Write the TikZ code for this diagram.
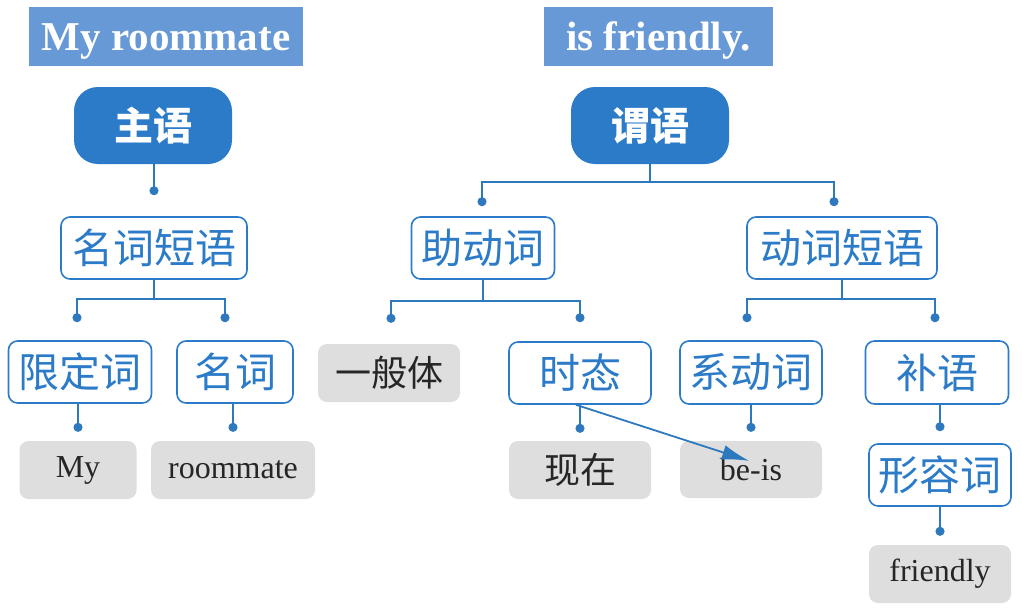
\documentclass[tikz,border=0pt]{standalone}
\usepackage{fontspec}
\setmainfont{Liberation Serif}
\newfontfamily\cjk{Noto Sans CJK SC}
\usetikzlibrary{arrows.meta,calc}

\definecolor{titleblue}{HTML}{6699D5}
\definecolor{headblue}{HTML}{2B7BC9}
\definecolor{linkblue}{HTML}{2E78BE}
\definecolor{wordgray}{HTML}{DEDEDE}

\begin{document}
\begin{tikzpicture}[
  x=1pt,
  y=-1pt,
  titlebox/.style={fill=titleblue,text=white,inner sep=0pt,
                   text height=43pt,text depth=16pt,
                   font=\fontsize{41}{41}\selectfont\bfseries},
  headbox/.style={fill=headblue,rounded corners=24pt,text=white,inner sep=0pt,
                  minimum width=158pt,minimum height=77pt,
                  font=\cjk\fontsize{39}{39}\selectfont\bfseries},
  catbox/.style={draw=headblue,line width=1.6pt,fill=white,rounded corners=9pt,
                 text=headblue,inner sep=0pt,minimum height=62pt,
                 font=\cjk\fontsize{41}{41}\selectfont},
  wordbox/.style={fill=wordgray,rounded corners=9pt,text=black!85,inner sep=0pt,
                  minimum height=58pt,font=\fontsize{32}{32}\selectfont},
  cjkword/.style={wordbox,font=\cjk\fontsize{36}{36}\selectfont},
  link/.style={draw=linkblue,line width=1.8pt,-{Circle[length=9pt]}},
  pointer/.style={draw=linkblue,line width=1.8pt,-{Latex[length=27pt,width=15pt]}}
]
\useasboundingbox (0,0) rectangle (1022,611);

% =====================================================================
% sentence halves
% =====================================================================
\node[titlebox,minimum width=274pt] (titleA) at (166,36.5) {My roommate};
\node[titlebox,minimum width=229pt] (titleB) at (658.5,36.5) {is friendly.};

% =====================================================================
% subject side
% =====================================================================
\node[headbox] (subj) at (153,125.5) {主语};
\node[catbox,minimum width=186pt] (np)   at (154,248) {名词短语};
\node[catbox,minimum width=143pt] (det)  at (80,372) {限定词};
\node[catbox,minimum width=116pt] (noun) at (235,372) {名词};
\node[wordbox,minimum width=117pt] (wMy)   at (78,470) {My};
\node[wordbox,minimum width=164pt] (wRoom) at (233,470) {roommate};

% =====================================================================
% predicate side
% =====================================================================
\node[headbox] (pred) at (650,125.5) {谓语};
\node[catbox,minimum width=143pt] (aux)   at (483,248) {助动词};
\node[catbox,minimum width=190pt] (vp)    at (842,248) {动词短语};
\node[cjkword,minimum width=142pt] (wGen) at (389,373) {一般体};
\node[catbox,minimum width=142pt] (tense) at (580,373) {时态};
\node[cjkword,minimum width=142pt] (wNow) at (580,470) {现在};
\node[catbox,minimum width=142pt,minimum height=63pt] (cop)  at (751,372.5) {系动词};
\node[catbox,minimum width=143pt,minimum height=63pt] (comp) at (937,372.5) {补语};
\node[wordbox,minimum width=142pt,minimum height=57pt] (wBe) at (751,469.5) {be-is};
\node[catbox,minimum width=142pt] (adj)  at (940,475) {形容词};
\node[wordbox,minimum width=142pt] (wFri) at (940,574) {friendly};

% =====================================================================
% connectors
% =====================================================================
% single child: straight drop ending in a dot
\foreach \p/\k/\g in {subj/np/21, det/wMy/9, noun/wRoom/9, tense/wNow/8,
                      cop/wBe/9, comp/adj/12, adj/wFri/9}
  \draw[link] (\p.south -| \k.north) -- ($(\k.north)+(0,-\g)$);

% two children: elbow bar, dots above the children
\foreach \p/\k/\b/\g/\dx in {pred/aux/18/10/-1, pred/vp/18/10/-8,
                             np/det/19/18/-3, np/noun/19/18/-10,
                             aux/wGen/21/21/2, aux/tense/21/19/0,
                             vp/cop/19/18/-4, vp/comp/19/18/-2}
  \draw[link] (\p.south) -- ++(0,\b) -| ($(\k.north)+(\dx,-\g)$);

% tense points at the copula form
\draw[pointer] ($(tense.south)+(-4,0)$) -- ($(wBe.north)+(-2,20)$);

\end{tikzpicture}
\end{document}
